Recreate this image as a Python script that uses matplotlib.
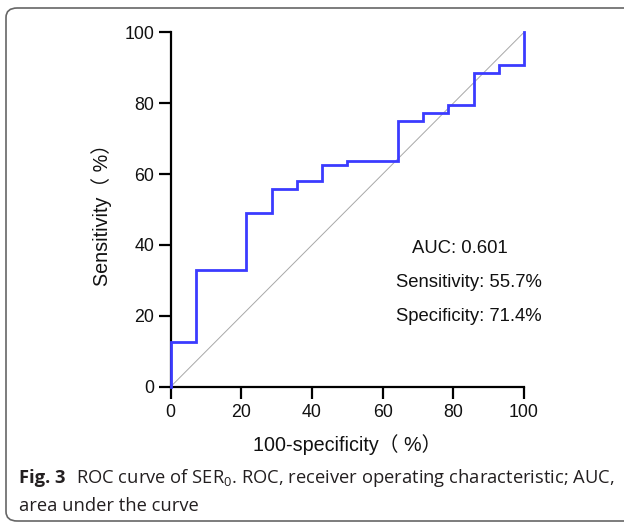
import matplotlib
matplotlib.use("Agg")
import matplotlib.pyplot as plt
from matplotlib.patches import FancyBboxPatch

# ---- data ----
fpr = [0, 0, 7.14, 7.14, 21.43, 21.43, 28.57, 28.57, 35.71, 35.71, 42.86, 42.86,
       50.0, 50.0, 64.29, 64.29, 71.43, 71.43, 78.57, 78.57, 85.71, 85.71,
       92.86, 92.86, 100, 100]
tpr = [0, 12.5, 12.5, 33.0, 33.0, 48.9, 48.9, 55.7, 55.7, 58.0, 58.0, 62.5,
       62.5, 63.6, 63.6, 75.0, 75.0, 77.3, 77.3, 79.5, 79.5, 88.6, 88.6,
       90.9, 90.9, 100]
ticks = [0, 20, 40, 60, 80, 100]
stats = ["AUC: 0.601", "Sensitivity: 55.7%", "Specificity: 71.4%"]
xlabel = "100-specificity（ %）"
ylabel = "Sensitivity（ %）"
cap_bold = "Fig. 3"
cap_line1 = "ROC curve of SER$_{0}$. ROC, receiver operating characteristic; AUC,"
cap_line2 = "area under the curve"

plt.rcParams['mathtext.fontset'] = 'custom'
plt.rcParams['mathtext.rm'] = 'Open Sans'
plt.rcParams['mathtext.it'] = 'Open Sans:italic'
plt.rcParams['mathtext.bf'] = 'Open Sans:bold'

W, H = 624, 523
fig = plt.figure(figsize=(W / 100, H / 100), dpi=100)

# border
border = FancyBboxPatch((6 / W, 1 - 521 / H), (660 - 6) / W, (521 - 8) / H,
                        boxstyle="round,pad=0,rounding_size=0.018",
                        transform=fig.transFigure, fill=False,
                        edgecolor="#666666", linewidth=1.2, clip_on=False)
fig.patches.append(border)

ax_l, ax_r, ax_b, ax_t = 170.7, 524.0, 386.7, 32.3
ax = fig.add_axes([ax_l / W, 1 - ax_b / H, (ax_r - ax_l) / W, (ax_b - ax_t) / H])
ax.set_xlim(0, 100)
ax.set_ylim(0, 100)
for s in ["top", "right"]:
    ax.spines[s].set_visible(False)
for s in ["left", "bottom"]:
    ax.spines[s].set_linewidth(1.6)
    ax.spines[s].set_color("black")

ax.plot([0, 100], [0, 100], color="#a8a8a8", linewidth=0.7, zorder=2)
ax.plot(fpr, tpr, color="#3b3bff", linewidth=2.0, zorder=5, clip_on=False,
        solid_joinstyle="miter")

ax.set_xticks(ticks)
ax.set_yticks(ticks)
ax.tick_params(axis="both", direction="out", length=8.5, width=1.6, color="black",
               labelsize=12.8, labelcolor="#111111")
ax.tick_params(axis="x", pad=4.2)
ax.tick_params(axis="y", pad=3.5)
for lab in ax.get_xticklabels() + ax.get_yticklabels():
    lab.set_fontfamily("Liberation Sans")

fam = ["Liberation Sans", "Noto Sans CJK SC"]
ax.set_xlabel(xlabel, fontsize=14.2, family=fam, color="#111111")
ax.set_ylabel(ylabel, fontsize=14.2, family=fam, color="#111111")
ax.xaxis.label.set_va("baseline")
ax.xaxis.set_label_coords(0.5, -(451 - ax_b) / (ax_b - ax_t))
ax.yaxis.label.set_va("baseline")
ax.yaxis.set_label_coords(-(ax_l - 107.5) / (ax_r - ax_l), 0.5)

ax.text(81.9, 37.6, stats[0], ha="center", va="baseline", fontsize=13.3,
        family="Liberation Sans", color="#111111")
ax.text(84.3, 28.2, stats[1], ha="center", va="baseline", fontsize=13.3,
        family="Liberation Sans", color="#111111")
ax.text(84.3, 18.6, stats[2], ha="center", va="baseline", fontsize=13.3,
        family="Liberation Sans", color="#111111")

# caption
cap_size = 13.2
tb = fig.text(19 / W, 1 - 483 / H, cap_bold, fontsize=cap_size, family="Open Sans",
              weight="bold", va="baseline", ha="left", color="#231f20")
fig.canvas.draw()
ext = tb.get_window_extent()
fig.text((ext.x1 + 11) / W, 1 - 483 / H, cap_line1, fontsize=cap_size,
         family="Open Sans", va="baseline", ha="left", color="#231f20")
fig.text(19 / W, 1 - 511 / H, cap_line2, fontsize=cap_size, family="Open Sans",
         va="baseline", ha="left", color="#231f20")

fig.savefig("out.png", dpi=100)
